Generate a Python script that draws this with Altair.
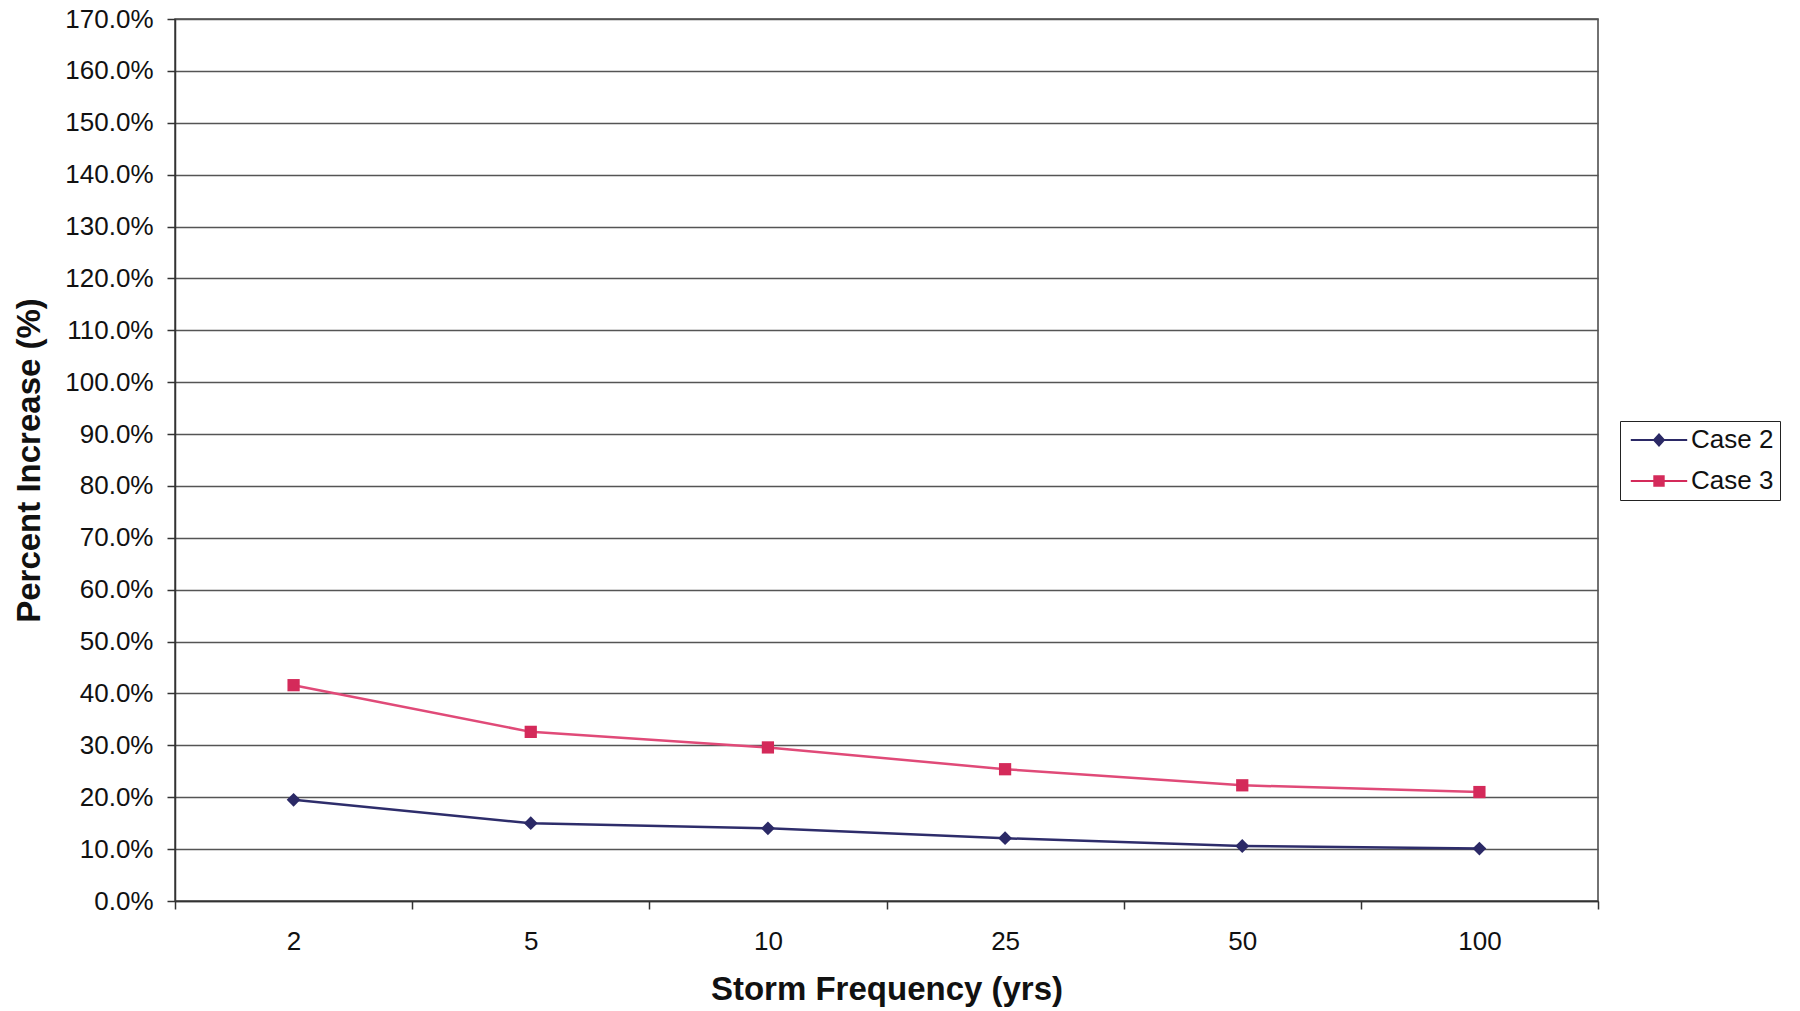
import altair as alt
import pandas as pd

freq = ["2", "5", "10", "25", "50", "100"]
case2 = [0.195, 0.150, 0.140, 0.121, 0.106, 0.101]
case3 = [0.416, 0.326, 0.296, 0.254, 0.223, 0.210]
series = ["Case 2", "Case 3"]
y_ticks = [i / 10 for i in range(18)]

line_colors = ["#2E2D6B", "#E04A78"]
marker_colors = ["#2B2966", "#D42A5A"]
marker_shapes = ["diamond", "square"]
marker_sizes = [190, 150]
legend_paths = [
    "M-4.7,-0.17H-0.8V0.17H-4.7Z M0.8,-0.17H4.7V0.17H0.8Z M0,-1.15L1.05,0L0,1.15L-1.05,0Z",
    "M-4.7,-0.17H-0.9V0.17H-4.7Z M0.9,-0.17H4.7V0.17H0.9Z M-0.95,-0.95H0.95V0.95H-0.95Z",
]

rows = []
for f, a, b in zip(freq, case2, case3):
    rows.append({"freq": f, "value": a, "series": "Case 2"})
    rows.append({"freq": f, "value": b, "series": "Case 3"})
df = pd.DataFrame(rows)

FONT = "Liberation Sans"

x_enc = alt.X(
    "freq:O",
    sort=freq,
    bandPosition=0.5,
    scale=alt.Scale(type="band", paddingInner=0, paddingOuter=0),
    axis=alt.Axis(
        title="Storm Frequency (yrs)",
        labelAngle=0,
        tickBand="extent",
        tickSize=8,
        tickColor="#333",
        tickWidth=1.5,
        domainColor="#333",
        domainWidth=1.5,
        grid=False,
        labelFontSize=26,
        labelFont=FONT,
        labelColor="#111",
        labelPadding=19,
        titleFontSize=33,
        titleFont=FONT,
        titleFontWeight="bold",
        titleColor="#111",
        titleY=72,
    ),
)

y_enc = alt.Y(
    "value:Q",
    scale=alt.Scale(domain=[0, 1.7], nice=False),
    axis=alt.Axis(
        title="Percent Increase (%)",
        values=y_ticks,
        format=".1%",
        tickSize=8,
        tickColor="#333",
        tickWidth=1.5,
        domainColor="#333",
        domainWidth=1.5,
        grid=True,
        gridColor="#555",
        gridWidth=1.5,
        labelFontSize=26,
        labelFont=FONT,
        labelColor="#111",
        labelPadding=14,
        titleFontSize=33,
        titleFont=FONT,
        titleFontWeight="bold",
        titleColor="#111",
        titleX=-129,
        titleY=441,
    ),
)

lines = alt.Chart(df).mark_line(strokeWidth=2.5).encode(
    x=x_enc,
    y=y_enc,
    color=alt.Color("series:N", scale=alt.Scale(domain=series, range=line_colors), legend=None),
)

points = alt.Chart(df).mark_point(filled=True, opacity=1).encode(
    x=x_enc,
    y=y_enc,
    fill=alt.Fill("series:N", scale=alt.Scale(domain=series, range=marker_colors), legend=None),
    shape=alt.Shape("series:N", scale=alt.Scale(domain=series, range=marker_shapes), legend=None),
    size=alt.Size("series:N", scale=alt.Scale(domain=series, range=marker_sizes), legend=None),
)

leg = alt.Legend(
    title=None,
    orient="none",
    legendX=1445,
    legendY=402,
    strokeColor="#222",
    fillColor="white",
    padding=6,
    symbolSize=144,
    symbolStrokeWidth=0,
    symbolOpacity=1,
    symbolOffset=20,
    labelOffset=19,
    labelFontSize=26,
    labelFont=FONT,
    labelColor="#111",
    rowPadding=15,
)

legend_layer = alt.Chart(df).transform_filter("false").mark_point(filled=True, opacity=1).encode(
    x=x_enc,
    y=y_enc,
    fill=alt.Fill("series:N", scale=alt.Scale(domain=series, range=marker_colors), legend=leg),
    shape=alt.Shape("series:N", scale=alt.Scale(domain=series, range=legend_paths), legend=leg),
)

chart = (
    alt.layer(lines, points, legend_layer)
    .resolve_scale(shape="independent", fill="independent")
    .properties(
        width=1423,
        height=882,
        autosize=alt.AutoSizeParams(type="none"),
        padding={"left": 175, "top": 19, "right": 202, "bottom": 110},
        background="white",
    )
    .configure_view(stroke="#444", strokeWidth=1.5)
)

chart.save("out.html", embed_options={"renderer": "svg", "actions": False})
